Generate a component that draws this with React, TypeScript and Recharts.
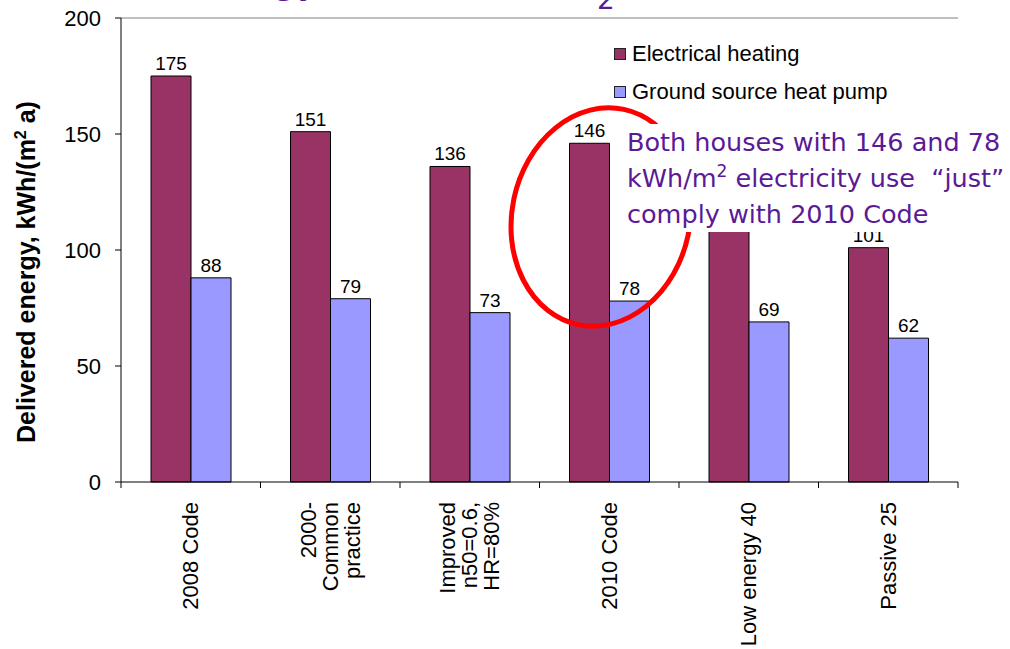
import React from "react";
import {
  BarChart,
  Bar,
  XAxis,
  YAxis,
  ReferenceLine,
  LabelList,
} from "recharts";

const categories = [
  "2008 Code",
  "2000-\nCommon\npractice",
  "Improved\nn50=0.6,\nHR=80%",
  "2010 Code",
  "Low energy 40",
  "Passive 25",
];
const electrical = [175, 151, 136, 146, 115, 101];
const groundSource = [88, 79, 73, 78, 69, 62];
const yTicks = [0, 50, 100, 150, 200];

const W = 1010;
const H = 649;
const PLOT_LEFT = 121;
const PLOT_RIGHT = 958;
const BAND = (PLOT_RIGHT - PLOT_LEFT) / categories.length;

const RED = "#993366";
const BLUE = "#9999FF";
const PURPLE = "#5a1a96";
const ARIAL = "Arial, 'Liberation Sans', sans-serif";

const data = categories.map((name, i) => ({
  name,
  electrical: electrical[i],
  ground: groundSource[i],
}));

// multi-line rotated category labels + tick marks on the category borders
const CategoryTick = (props: any) => {
  const { x, y, payload, index } = props;
  const lines = String(payload.value).split("\n");
  const fs = 22;
  const lh = 22;
  const ty = y + 12;
  return (
    <g>
      <line x1={x - BAND / 2} x2={x - BAND / 2} y1={y - 8} y2={y - 2} stroke="#000" />
      {index === categories.length - 1 && (
        <line x1={x + BAND / 2} x2={x + BAND / 2} y1={y - 8} y2={y - 2} stroke="#000" />
      )}
      <text
        transform={`translate(${x},${ty}) rotate(-90)`}
        textAnchor="end"
        fontSize={fs}
        fontFamily={ARIAL}
        fill="#000"
      >
        {lines.map((l, i) => (
          <tspan key={i} x={0} y={(i - (lines.length - 1) / 2) * lh + fs * 0.35}>
            {l}
          </tspan>
        ))}
      </text>
    </g>
  );
};

const App = () => {
  return (
    <div style={{ position: "absolute", left: 0, top: 0, width: W, height: H, background: "#fff", fontFamily: ARIAL }}>
      <BarChart
        width={W}
        height={H}
        data={data}
        margin={{ top: 18, right: W - PLOT_RIGHT, left: 61, bottom: 0 }}
        barGap={0}
        barSize={40}
      >
        <XAxis
          dataKey="name"
          interval={0}
          height={167}
          axisLine={{ stroke: "#000" }}
          tickLine={false}
          tick={<CategoryTick />}
        />
        <YAxis
          domain={[0, 200]}
          ticks={yTicks}
          width={60}
          axisLine={{ stroke: "#000" }}
          tickLine={{ stroke: "#000" }}
          tickSize={6}
          tickMargin={14}
          tick={{ fontSize: 22, fill: "#000", fontFamily: ARIAL }}
        />
        <YAxis
          yAxisId="right"
          orientation="right"
          domain={[0, 200]}
          width={0}
          tick={false}
          tickLine={false}
          axisLine={{ stroke: "#808080" }}
        />
        <ReferenceLine y={200} stroke="#808080" ifOverflow="extendDomain" />
        <Bar dataKey="electrical" fill={RED} stroke="#000" strokeWidth={1} isAnimationActive={false}>
          <LabelList dataKey="electrical" position="top" offset={6} fill="#000" fontSize={19} fontFamily={ARIAL} />
        </Bar>
        <Bar dataKey="ground" fill={BLUE} stroke="#000" strokeWidth={1} isAnimationActive={false}>
          <LabelList dataKey="ground" position="top" offset={6} fill="#000" fontSize={19} fontFamily={ARIAL} />
        </Bar>
      </BarChart>

      {/* legend */}
      <div style={{ position: "absolute", left: 614, top: 40, fontSize: 22, color: "#000" }}>
        {[
          { c: RED, t: "Electrical heating" },
          { c: BLUE, t: "Ground source heat pump" },
        ].map((it, i) => (
          <div key={i} style={{ display: "flex", alignItems: "center", height: 28, marginBottom: 10 }}>
            <span style={{ width: 10, height: 10, background: it.c, border: "1px solid #222", marginRight: 6 }} />
            <span>{it.t}</span>
          </div>
        ))}
      </div>

      {/* overlay: y-axis title, cut-off slide title and annotation ellipse */}
      <svg width={W} height={H} style={{ position: "absolute", left: 0, top: 0, pointerEvents: "none" }}>
        <text
          transform="translate(35,272) rotate(-90)"
          textAnchor="middle"
          fontSize={25}
          fontWeight="bold"
          fontFamily={ARIAL}
          fill="#000"
        >
          Delivered energy, kWh/(m<tspan fontSize={16} dy={-9}>2</tspan>
          <tspan dy={9}> a)</tspan>
        </text>
        <text x={321} y={-8} textAnchor="end" fontSize={40} fill={PURPLE} fontFamily="'DejaVu Sans', sans-serif">
          Delivered energy
        </text>
        <text x={597} y={9} fontSize={28} fill={PURPLE} fontFamily="'DejaVu Sans', sans-serif">
          2
        </text>
        <ellipse cx={601} cy={217} rx={89} ry={110} transform="rotate(12 601 217)" fill="none" stroke="#ff0000" strokeWidth={5} />
      </svg>

      <div
        style={{
          position: "absolute",
          left: 622,
          top: 124,
          width: 388,
          height: 108,
          background: "#fff",
          color: PURPLE,
          fontFamily: "'DejaVu Sans', sans-serif",
          fontSize: 25.5,
          lineHeight: "36px",
          paddingLeft: 5,
          boxSizing: "border-box",
          whiteSpace: "pre",
        }}
      >
        <div>Both houses with 146 and 78</div>
        <div>
          kWh/m<sup style={{ fontSize: 17, verticalAlign: "10px", lineHeight: 0 }}>2</sup> electricity use  “just”
        </div>
        <div>comply with 2010 Code</div>
      </div>
    </div>
  );
};

export default App;
